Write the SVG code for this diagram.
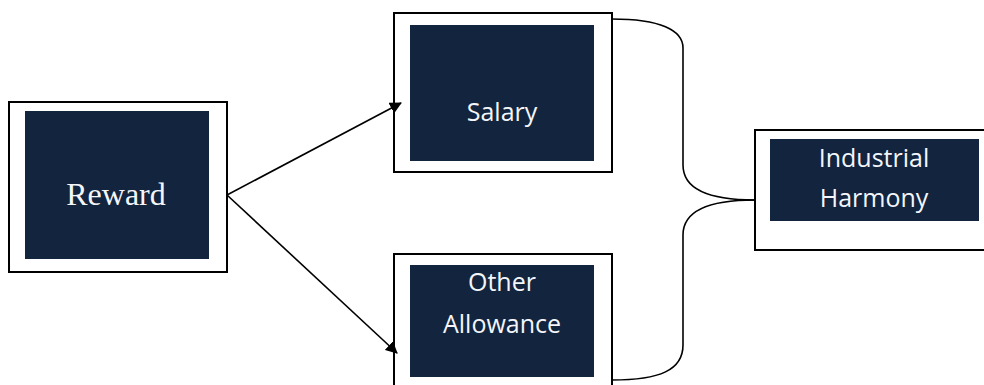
<svg xmlns="http://www.w3.org/2000/svg" width="984" height="385" viewBox="0 0 984 385">
<defs>
<style>
.outer{fill:#fff;stroke:#000;stroke-width:2}
.inner{fill:#12243e}
.t{fill:#f4f6fa;font-family:"Open Sans","Liberation Sans",sans-serif;font-size:25px;text-anchor:middle}
.ts{fill:#f4f6fa;font-family:"Liberation Serif",serif;font-size:32px;text-anchor:middle}
.c{fill:none;stroke:#000;stroke-width:1.6}
</style>
<marker id="ah" markerWidth="12" markerHeight="12" refX="11" refY="6" orient="auto" markerUnits="userSpaceOnUse" viewBox="0 0 12 12">
<path d="M0,0 L12,6 L0,12 z" fill="#000"/>
</marker>
</defs>
<rect width="984" height="385" fill="#fff"/>
<g id="reward">
<rect class="outer" x="9" y="102" width="218" height="170"/>
<rect class="inner" x="25" y="111" width="184" height="148"/>
<text class="ts" x="116" y="205">Reward</text>
</g>
<g id="salary">
<rect class="outer" x="394" y="13" width="218" height="159"/>
<rect class="inner" x="410" y="25" width="184" height="136"/>
<text class="t" x="502" y="121">Salary</text>
</g>
<g id="other">
<rect class="outer" x="394" y="254" width="218" height="140"/>
<rect class="inner" x="410" y="265" width="184" height="112"/>
<text class="t" x="502" y="291">Other</text>
<text class="t" x="502" y="333">Allowance</text>
</g>
<g id="harmony">
<rect class="outer" x="755" y="130" width="240" height="120"/>
<rect class="inner" x="770" y="139" width="209" height="82"/>
<text class="t" x="874" y="167">Industrial</text>
<text class="t" x="874" y="207">Harmony</text>
</g>
<g id="connectors">
<line class="c" x1="227" y1="195" x2="401" y2="103" marker-end="url(#ah)"/>
<line class="c" x1="227" y1="195" x2="397" y2="353" marker-end="url(#ah)"/>
<path class="c" d="M612,19 C660,19 683,30 683,48 L683,165 C683,185 700,200 755,200"/>
<path class="c" d="M755,200 C700,200 683,215 683,235 L683,345 C683,370 660,380 612,380"/>
</g>
</svg>
